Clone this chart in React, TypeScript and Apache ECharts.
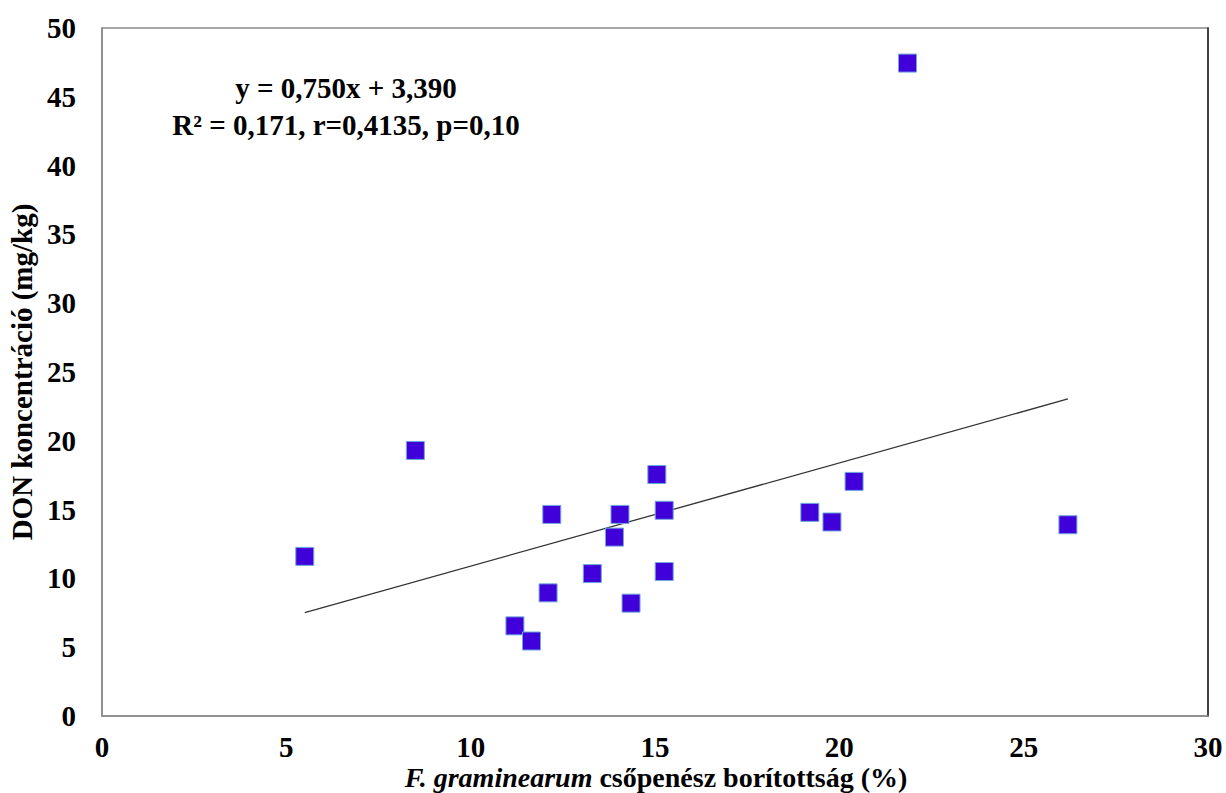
import React, { useEffect, useRef } from "react";
import * as echarts from "echarts";

// Data
const coverage: number[] = [5.5, 8.5, 11.2, 11.65, 12.1, 12.2, 13.3, 13.9, 14.05, 14.35, 15.05, 15.25, 15.25, 19.2, 19.8, 20.4, 21.85, 26.2];
const don: number[] = [11.6, 19.3, 6.55, 5.45, 8.95, 14.65, 10.35, 13.0, 14.65, 8.2, 17.55, 10.5, 14.95, 14.8, 14.1, 17.05, 47.45, 13.9];
const trendX: number[] = [5.5, 26.2];
const trendY: number[] = [7.52, 23.04];
const equationLines: string[] = ["y = 0,750x + 3,390", "R² = 0,171, r=0,4135, p=0,10"];
const xTitleItalic = "F. graminearum";
const xTitleRest = " csőpenész borítottság (%)";
const yTitle = "DON koncentráció (mg/kg)";

const FONT = "Liberation Serif";

export default function App() {
  const ref = useRef<HTMLDivElement>(null);
  useEffect(() => {
    document.body.style.margin = "0";
    if (!ref.current) return;
    const chart = echarts.init(ref.current, undefined, { renderer: "svg" });
    const labelStyle = { fontFamily: FONT, fontWeight: "bold" as const, fontSize: 29, color: "#000" };
    chart.setOption({
      animation: false,
      backgroundColor: "#fff",
      grid: {
        left: 102,
        right: 18,
        top: 28,
        bottom: 77,
        show: true,
        borderColor: "#8a8a8a",
        borderWidth: 1.5,
        containLabel: false,
        outerBoundsMode: "none",
      },
      xAxis: {
        type: "value",
        min: 0,
        max: 30,
        interval: 5,
        splitLine: { show: false },
        axisTick: { show: false },
        axisLine: { show: true, lineStyle: { color: "#8a8a8a", width: 1.5 } },
        axisLabel: { ...labelStyle, margin: 17, lineHeight: 28 },
      },
      yAxis: [
        {
          type: "value",
          min: 0,
          max: 50,
          interval: 5,
          splitLine: { show: false },
          axisTick: { show: false },
          axisLine: { show: true, lineStyle: { color: "#8a8a8a", width: 1.5 } },
          axisLabel: { ...labelStyle, margin: 26 },
          name: yTitle,
          nameLocation: "middle",
          nameGap: 60,
          nameRotate: 90,
          nameTextStyle: { ...labelStyle },
        },
        {
          type: "value",
          position: "right",
          min: 0,
          max: 50,
          interval: 5,
          splitLine: { show: false },
          axisTick: { show: false },
          axisLabel: { show: false },
          axisLine: { show: true, lineStyle: { color: "#222", width: 1.5 } },
        },
      ],
      series: [
        {
          type: "line",
          data: trendX.map((x, i) => [x, trendY[i]]),
          showSymbol: false,
          symbol: "none",
          lineStyle: { color: "#333", width: 1.3 },
          silent: true,
          z: 3,
        },
        {
          type: "scatter",
          data: coverage.map((x, i) => [x, don[i]]),
          symbol: "rect",
          symbolSize: 18,
          itemStyle: { color: "#4000d9", borderColor: "#6fa8dc", borderWidth: 1, opacity: 1 },
          z: 4,
        },
      ],
      graphic: [
        ...equationLines.map((t, i) => ({
          type: "text",
          x: 346,
          y: 88 + i * 37,
          style: {
            text: t,
            font: `bold 29px "${FONT}"`,
            fill: "#000",
            textAlign: "center",
            textVerticalAlign: "middle",
          },
          z: 10,
        })),
        {
          type: "text",
          x: 656,
          y: 777,
          style: {
            text: `{i|${xTitleItalic}}{n|${xTitleRest}}`,
            textAlign: "center",
            textVerticalAlign: "middle",
            rich: {
              i: { fontFamily: FONT, fontWeight: "bold", fontStyle: "italic", fontSize: 28, fill: "#000", lineHeight: 27 },
              n: { fontFamily: FONT, fontWeight: "bold", fontSize: 28, fill: "#000", lineHeight: 27 },
            },
          },
          z: 10,
        },
      ],
    });
    return () => chart.dispose();
  }, []);
  return <div ref={ref} style={{ width: 1226, height: 793 }} />;
}
